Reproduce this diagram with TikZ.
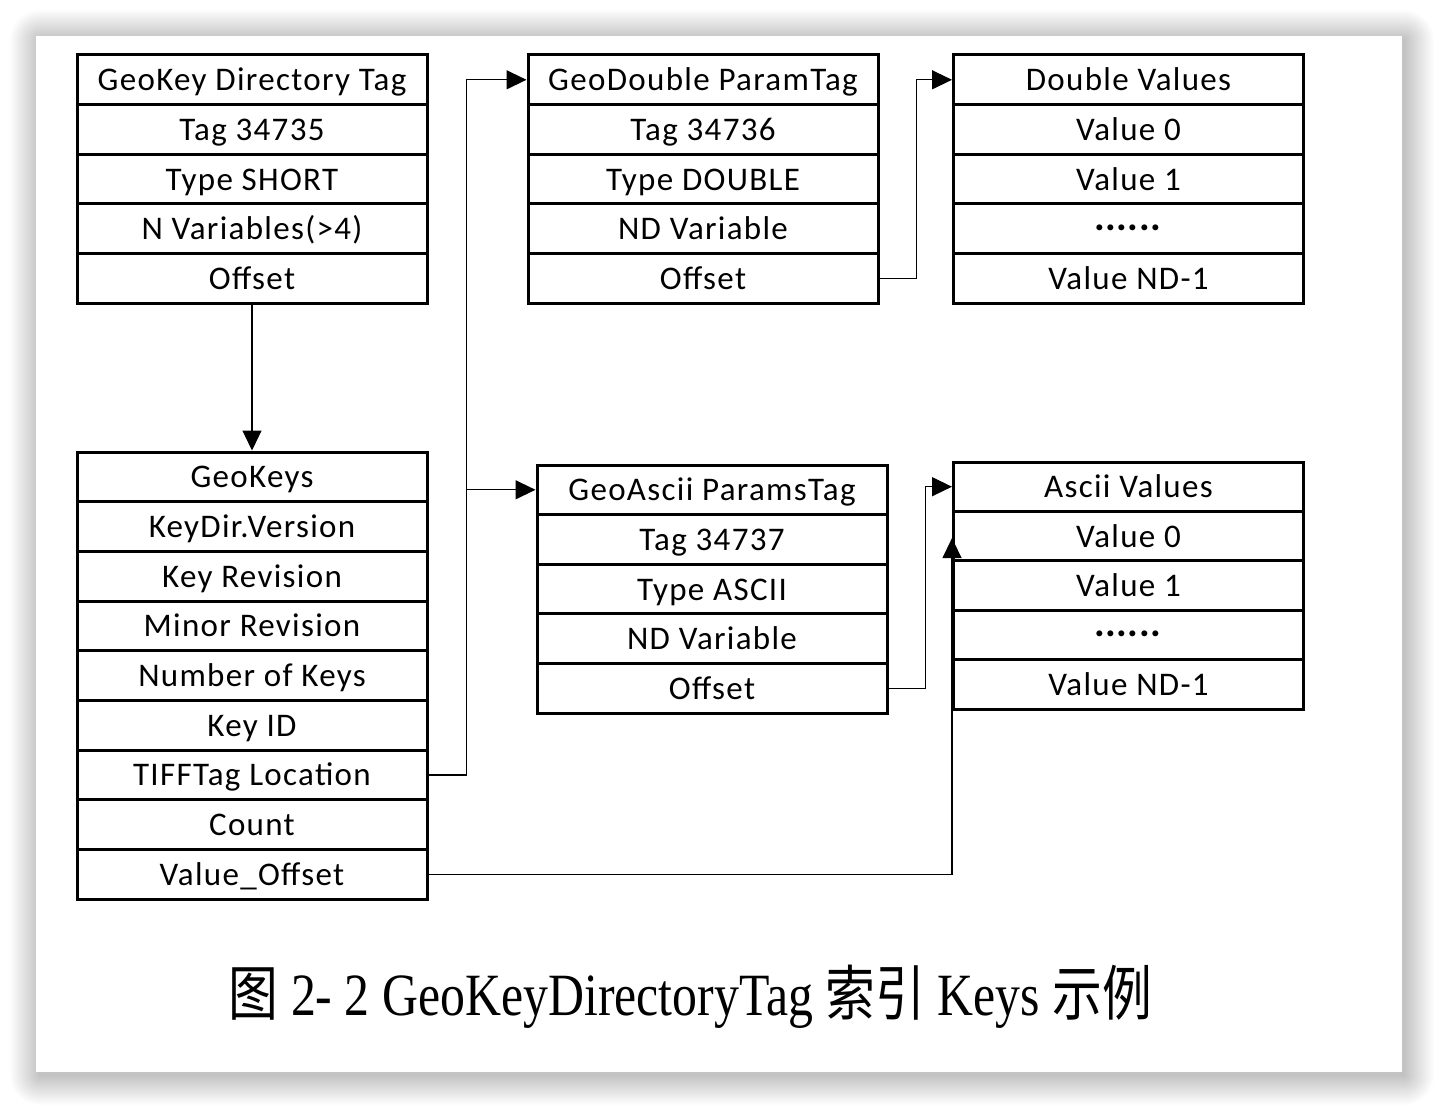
\documentclass[tikz,border=0pt]{standalone}
\usepackage{fontspec}
\setmainfont{Carlito}[LetterSpace=4]
\newfontfamily\capserif{Liberation Serif}
\newfontfamily\cjk{Noto Sans CJK SC}
\usetikzlibrary{arrows.meta,calc}
\newcommand{\dotrow}{\raisebox{9pt}{\fontsize{40}{40}\selectfont\textbf{.\hspace{0.5pt}.\hspace{0.5pt}.\hspace{0.5pt}.\hspace{0.5pt}.\hspace{0.5pt}.}}}
\begin{document}
\begin{tikzpicture}[x=1pt,y=-1pt,
  cell/.style={draw,line width=3pt,minimum width=350pt,inner sep=0pt,
    text height=27pt,text depth=5pt,
    font=\fontsize{33}{40}\selectfont},
  conn/.style={line width=1.3pt},
  arr/.style={conn,-{Triangle[length=20pt,width=19pt]}},
]
\useasboundingbox (0,0) rectangle (1438,1108);
% shadow
\foreach \i in {1,...,30}{
  \fill[black,opacity=0.007,rounded corners=\i pt] (40-\i,40-\i) rectangle (1404+\i,1075+\i);
}
\fill[white] (36,36) rectangle (1402,1072);

% GeoKey Directory Tag
\foreach \t [count=\i] in {GeoKey Directory Tag,Tag 34735,Type SHORT,N Variables(>4),Offset}{
  \node[cell,minimum height=49.6pt] (A\i) at (252,{55+(\i-0.5)*49.6}) {\t};
}
% GeoKeys
\foreach \t [count=\i] in {GeoKeys,KeyDir.Version,Key Revision,Minor Revision,Number of Keys,Key ID,TIFFTag Location,Count,Value\_Offset}{
  \node[cell,minimum height=49.67pt] (K\i) at (252,{452+(\i-0.5)*49.67}) {\t};
}
% GeoDouble ParamTag
\foreach \t [count=\i] in {GeoDouble ParamTag,Tag 34736,Type DOUBLE,ND Variable,Offset}{
  \node[cell,minimum height=49.6pt] (D\i) at (703,{55+(\i-0.5)*49.6}) {\t};
}
% Double Values
\foreach \t [count=\i] in {Double Values,Value 0,Value 1,\dotrow,Value ND-1}{
  \node[cell,minimum height=49.6pt] (V\i) at (1128.5,{55+(\i-0.5)*49.6}) {\t};
}
% GeoAscii ParamsTag
\foreach \t [count=\i] in {GeoAscii ParamsTag,Tag 34737,Type ASCII,ND Variable,Offset}{
  \node[cell,minimum height=49.6pt] (G\i) at (712,{465+(\i-0.5)*49.6}) {\t};
}
% Ascii Values
\foreach \t [count=\i] in {Ascii Values,Value 0,Value 1,\dotrow,Value ND-1}{
  \node[cell,minimum height=49.4pt] (W\i) at (1128.5,{462+(\i-0.5)*49.4}) {\t};
}

% connectors
\draw[arr] (A5.south) -- (K1.north);
\coordinate (j1) at ($(K7.east)+(38,0)$);
\draw[arr] (K7.east) -- (j1) |- (D1.west);
\draw[arr] (j1 |- G1.west) -- (G1.west);
\coordinate (j2) at ($(D5.east)+(37,0)$);
\draw[arr] (D5.east) -- (j2) |- (V1.west);
\coordinate (j3) at ($(G5.east)+(37,0)$);
\draw[arr] (G5.east) -- (j3) |- (W1.west);
\draw[arr] (K9.east) -| ($(W2.west)+(0,2)$);

% caption
\node[anchor=base,inner sep=0pt] (cap) at (690,1015)
  {\scalebox{0.83}[1]{\fontsize{60}{60}\selectfont{\cjk 图} \capserif 2- 2 GeoKeyDirectoryTag {\cjk 索引} Keys {\cjk 示例}}};
\end{tikzpicture}
\end{document}
